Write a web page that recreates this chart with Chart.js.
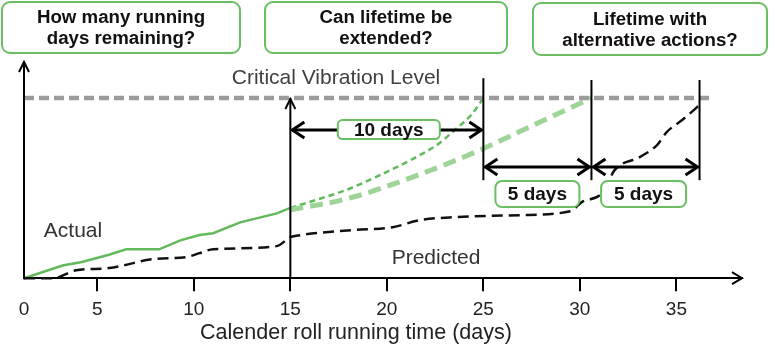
<!DOCTYPE html>
<html>
<head>
<meta charset="utf-8">
<script src="https://cdn.jsdelivr.net/npm/chart.js@4.4.1/dist/chart.umd.min.js"></script>
<style>
  html, body { margin: 0; padding: 0; background: #fff; }
  #wrap { width: 775px; height: 361px; }
</style>
</head>
<body>
<div id="wrap"><canvas id="chart"></canvas></div>
<script>
// axis origin of the drawing sits a little right of day 0
const X_ORIGIN = 1.2;
const X_MAX = 38.4;
const Y_MAX = 12;
const TICK_DAYS = [0, 5, 10, 15, 20, 25, 30, 35];
const CRITICAL_LEVEL = 10;
const criticalDays = [1.2, 36.9];

// measured history (green solid)
const actualDays  = [1.2, 3.2, 4.2, 5.6, 6.5, 8.2, 9.3, 10.3, 11.0, 12.4, 14.3, 15.0];
const actualLevel = [0, 0.7, 0.9, 1.3, 1.6, 1.6, 2.1, 2.4, 2.5, 3.1, 3.6, 3.9];

// current trend to the critical level (thin green dashes)
const trendDays  = [15.0, 16.2, 17.9, 19.6, 21.3, 22.6, 23.6, 24.4, 25.0];
const trendLevel = [3.9, 4.3, 4.9, 5.7, 6.6, 7.4, 8.3, 9.1, 10.0];

// extended lifetime (thick light green dashes)
const extendedDays  = [15.0, 17.9, 21.3, 24.8, 27.8, 30.6];
const extendedLevel = [3.8, 4.4, 5.6, 7.1, 8.6, 10.0];

// predicted (black dashes)
const predictedDays  = [1.2, 2.7, 3.9, 5.6, 7.9, 9.6, 10.3, 11.0, 14.3, 15.0, 15.5, 18.2, 20.3, 21.7, 23.6, 26.9, 29.5, 30.1, 31.2, 31.8, 33.1, 34.0, 34.5, 35.3, 36.2];
const predictedLevel = [0, 0, 0.44, 0.56, 1.06, 1.17, 1.39, 1.61, 1.78, 2.28, 2.39, 2.67, 2.83, 3.22, 3.39, 3.5, 3.72, 4.22, 4.78, 6.0, 6.72, 7.39, 8.11, 8.78, 9.61];

// milestones and spans
const milestoneDays = [15, 25, 30.6, 36.2];
const spanLabels = ['10 days', '5 days', '5 days'];

const questions = [
    ['How many running', 'days remaining?'],
    ['Can lifetime be', 'extended?'],
    ['Lifetime with', 'alternative actions?']
];

const FONT = "'Liberation Sans', Arial, sans-serif";
const GREEN = '#62ba5c';
const LIGHT_GREEN = '#9fd499';
const BOX_GREEN = '#6abf62';

function pts(xs, ys) {
    return xs.map((v, i) => ({ x: v, y: ys[i] }));
}

function line(ctx, x1, y1, x2, y2) {
    ctx.beginPath();
    ctx.moveTo(x1, y1);
    ctx.lineTo(x2, y2);
    ctx.stroke();
}

// open chevron arrow head, tip at (x, y), pointing along (dx, dy)
function head(ctx, x, y, dx, dy, len, half) {
    const nx = -dy, ny = dx;
    ctx.beginPath();
    ctx.moveTo(x - dx * len + nx * half, y - dy * len + ny * half);
    ctx.lineTo(x, y);
    ctx.lineTo(x - dx * len - nx * half, y - dy * len - ny * half);
    ctx.stroke();
}

function labelBox(ctx, cx, cy, w, h, lines, font, lineGap) {
    ctx.fillStyle = '#fff';
    ctx.strokeStyle = BOX_GREEN;
    ctx.lineWidth = 2;
    ctx.beginPath();
    ctx.roundRect(cx - w / 2, cy - h / 2, w, h, Math.min(8, h / 4));
    ctx.fill();
    ctx.stroke();
    ctx.fillStyle = '#111';
    ctx.font = font;
    ctx.textAlign = 'center';
    ctx.textBaseline = 'middle';
    const top = cy - (lines.length - 1) * lineGap / 2;
    lines.forEach((t, i) => ctx.fillText(t, cx, top + i * lineGap + 1));
}

const diagram = {
    id: 'diagram',
    afterDatasetsDraw(chart) {
        const { ctx, chartArea: a, scales: { x, y } } = chart;
        const px = v => x.getPixelForValue(v);
        const py = v => y.getPixelForValue(v);
        ctx.save();
        ctx.strokeStyle = '#000';
        ctx.lineCap = 'butt';
        ctx.lineJoin = 'miter';

        // y axis with arrow, arrow on the x axis end
        ctx.lineWidth = 2;
        line(ctx, a.left, a.bottom + 1, a.left, a.top);
        head(ctx, a.left, a.top, 0, -1, 10, 5);
        head(ctx, a.right, a.bottom, 1, 0, 10, 6);

        // "now" line up to the critical level
        const m = milestoneDays.map(px);
        line(ctx, m[0], a.bottom, m[0], py(CRITICAL_LEVEL));
        head(ctx, m[0], py(CRITICAL_LEVEL) + 1, 0, -1, 10, 5);

        // end-of-life markers
        [[m[1], 11.1], [m[2], 11.0], [m[3], 11.0]].forEach(([mx, top]) => {
            line(ctx, mx, py(top), mx, py(5.44));
        });

        // double arrows for the spans
        ctx.lineWidth = 3;
        const spans = [[m[0], m[1], py(8.22)], [m[1], m[2], py(6.17)], [m[2], m[3], py(6.17)]];
        spans.forEach(([x1, x2, yy]) => {
            line(ctx, x1 + 2, yy, x2 - 2, yy);
            head(ctx, x1 + 2, yy, -1, 0, 12, 8);
            head(ctx, x2 - 2, yy, 1, 0, 12, 8);
        });

        // span labels
        const boldSpan = 'bold 19px ' + FONT;
        labelBox(ctx, px(20.1), py(8.25), 102, 19, [spanLabels[0]], boldSpan, 0);
        labelBox(ctx, px(27.8), py(4.67), 84, 26, [spanLabels[1]], boldSpan, 0);
        labelBox(ctx, px(33.3), py(4.67), 85, 26, [spanLabels[2]], boldSpan, 0);

        // plain labels
        ctx.textAlign = 'center';
        ctx.textBaseline = 'middle';
        ctx.font = '21px ' + FONT;
        ctx.fillStyle = '#404040';
        ctx.fillText('Critical Vibration Level', 336, 78);
        ctx.fillStyle = '#333';
        ctx.fillText('Actual', 73, 231);
        ctx.fillText('Predicted', 436, 258);

        // axis title
        ctx.font = '21.5px ' + FONT;
        ctx.fillStyle = '#222';
        ctx.fillText('Calender roll running time (days)', 356, 333);

        // question boxes on top
        const qBoxes = [[121, 27.5, 238, 51], [386, 27.5, 242, 51], [650, 29, 234, 52]];
        qBoxes.forEach(([cx, cy, w, h], i) => {
            labelBox(ctx, cx, cy, w, h, questions[i], 'bold 18.7px ' + FONT, 21);
        });

        ctx.restore();
    }
};

new Chart(document.getElementById('chart'), {
    type: 'line',
    data: {
        datasets: [
            {
                label: 'Critical Vibration Level',
                data: pts(criticalDays, [CRITICAL_LEVEL, CRITICAL_LEVEL]),
                borderColor: '#9b9b9b',
                borderWidth: 4.5,
                borderDash: [10, 5]
            },
            {
                label: 'Predicted',
                data: pts(predictedDays, predictedLevel),
                borderColor: '#111',
                borderWidth: 2.5,
                borderDash: [11, 6],
                cubicInterpolationMode: 'monotone'
            },
            {
                label: 'Extended',
                data: pts(extendedDays, extendedLevel),
                borderColor: LIGHT_GREEN,
                borderWidth: 5,
                borderDash: [13, 7],
                cubicInterpolationMode: 'monotone'
            },
            {
                label: 'Trend',
                data: pts(trendDays, trendLevel),
                borderColor: GREEN,
                borderWidth: 2.5,
                borderDash: [6, 4],
                cubicInterpolationMode: 'monotone'
            },
            {
                label: 'Actual',
                data: pts(actualDays, actualLevel),
                borderColor: GREEN,
                borderWidth: 2.5
            }
        ]
    },
    options: {
        responsive: true,
        maintainAspectRatio: false,
        animation: false,
        clip: false,
        layout: {
            padding: { left: 24, right: 33, top: 62, bottom: 33 }
        },
        elements: {
            point: { radius: 0 },
            line: { tension: 0, fill: false }
        },
        scales: {
            x: {
                type: 'linear',
                min: X_ORIGIN,
                max: X_MAX,
                afterBuildTicks: axis => {
                    axis.ticks = TICK_DAYS.map(d => ({ value: d === 0 ? X_ORIGIN : d }));
                },
                border: { display: true, color: '#000', width: 2 },
                grid: {
                    drawOnChartArea: false,
                    drawTicks: true,
                    tickLength: 13,
                    lineWidth: 2,
                    color: c => (c.index === 0 ? 'rgba(0,0,0,0)' : '#000')
                },
                ticks: {
                    autoSkip: false,
                    maxRotation: 0,
                    padding: 7,
                    color: '#222',
                    font: { family: FONT, size: 19 },
                    callback: (v, i) => String(TICK_DAYS[i])
                }
            },
            y: {
                display: false,
                min: 0,
                max: Y_MAX
            }
        },
        plugins: {
            legend: { display: false },
            tooltip: { enabled: false }
        }
    },
    plugins: [diagram]
});
</script>
</body>
</html>
